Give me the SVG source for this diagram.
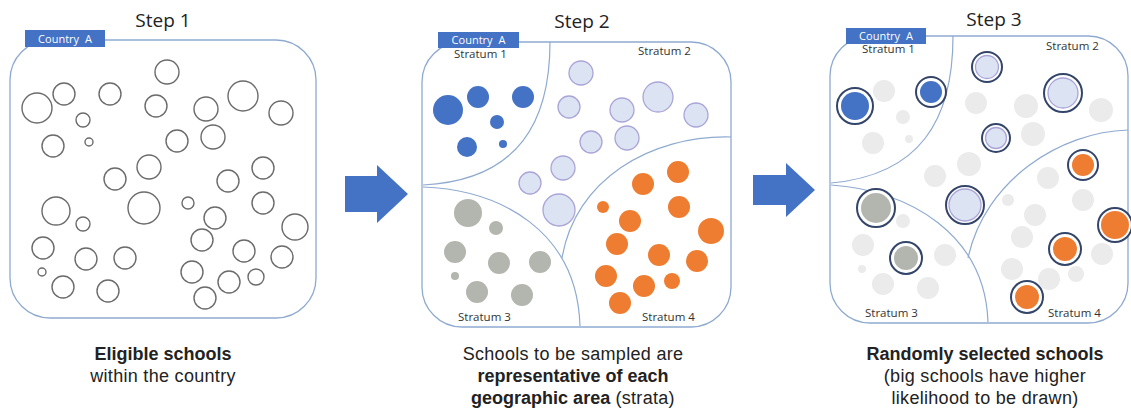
<svg xmlns="http://www.w3.org/2000/svg" width="1131" height="412" viewBox="0 0 1131 412">
  <style>
    text { font-family: "Open Sans", "Liberation Sans", sans-serif; }
    .panel { fill: #ffffff; stroke: #8faad0; stroke-width: 1.3; }
    .div { fill: none; stroke: #8faad0; stroke-width: 1.2; }
    .e { fill: none; stroke: #6b6b6b; stroke-width: 1.4; }
    .s1 { fill: #4472c4; }
    .s2 { fill: #dce4f4; stroke: #aaa5d8; stroke-width: 1.3; }
    .s3 { fill: #b3b6ae; }
    .s4 { fill: #ee7d32; }
    .u { fill: #ebebeb; }
    .ring { fill: #ffffff; stroke: #34456a; stroke-width: 2; }
    .tag { fill: #4472c4; }
    .tagtxt { fill: #ffffff; font-size: 11px; text-anchor: middle; word-spacing: 3px; }
    .title { font-size: 19px; fill: #222; text-anchor: middle; }
    .cap { font-family: "Liberation Sans", Arial, sans-serif; font-size: 18px; fill: #222; text-anchor: middle; letter-spacing: 0.3px; }
    .b { font-weight: bold; letter-spacing: 0; }
    .strat { font-size: 11.5px; fill: #333; }
    .arrow { fill: #4472c4; }
  </style>

  <!-- Step 1: all eligible schools -->
  <g id="step1">
    <text class="title" x="163" y="27">Step 1</text>
    <rect class="panel" x="10" y="40" width="306" height="278" rx="40" ry="40"/>
    <rect class="tag" x="25" y="30" width="80" height="17"/>
    <text class="tagtxt" x="65" y="42.5">Country A</text>
    <g>
      <circle class="e" cx="167" cy="72" r="12"/>
      <circle class="e" cx="37" cy="108" r="15"/>
      <circle class="e" cx="64" cy="94" r="11"/>
      <circle class="e" cx="110" cy="94" r="11"/>
      <circle class="e" cx="83" cy="120" r="7"/>
      <circle class="e" cx="156" cy="106" r="11"/>
      <circle class="e" cx="206" cy="109" r="12"/>
      <circle class="e" cx="243" cy="96" r="15"/>
      <circle class="e" cx="281" cy="113" r="12"/>
      <circle class="e" cx="53" cy="146" r="11"/>
      <circle class="e" cx="89" cy="142" r="4"/>
      <circle class="e" cx="177" cy="141" r="11"/>
      <circle class="e" cx="213" cy="137" r="12"/>
      <circle class="e" cx="149" cy="167" r="12"/>
      <circle class="e" cx="115" cy="179" r="11"/>
      <circle class="e" cx="228" cy="181" r="11"/>
      <circle class="e" cx="263" cy="168" r="11"/>
      <circle class="e" cx="56" cy="211" r="14"/>
      <circle class="e" cx="144" cy="208" r="16"/>
      <circle class="e" cx="188" cy="203" r="6"/>
      <circle class="e" cx="263" cy="203" r="11"/>
      <circle class="e" cx="83" cy="224" r="7"/>
      <circle class="e" cx="215" cy="218" r="11"/>
      <circle class="e" cx="295" cy="227" r="13"/>
      <circle class="e" cx="43" cy="248" r="11"/>
      <circle class="e" cx="86" cy="259" r="11"/>
      <circle class="e" cx="125" cy="258" r="11"/>
      <circle class="e" cx="202" cy="240" r="11"/>
      <circle class="e" cx="244" cy="251" r="11"/>
      <circle class="e" cx="282" cy="257" r="11"/>
      <circle class="e" cx="42" cy="272" r="4"/>
      <circle class="e" cx="63" cy="287" r="11"/>
      <circle class="e" cx="108" cy="291" r="11"/>
      <circle class="e" cx="192" cy="272" r="11"/>
      <circle class="e" cx="229" cy="282" r="11"/>
      <circle class="e" cx="256" cy="277" r="8"/>
      <circle class="e" cx="205" cy="298" r="11"/>
    </g>
    <text class="cap b" x="163" y="360">Eligible schools</text>
    <text class="cap" x="163" y="382">within the country</text>
  </g>

  <!-- Step 2: schools grouped into four strata -->
  <g id="step2">
    <text class="title" x="582" y="28">Step 2</text>
    <rect class="panel" x="422" y="42" width="309" height="285" rx="40" ry="40"/>
    <path class="div" d="M550,42 C550,120 520,180 423,185"/>
    <path class="div" d="M423,187 C500,190 577,230 580,326"/>
    <path class="div" d="M731,137 C650,135 575,180 562,258"/>
    <rect class="tag" x="438" y="32" width="81" height="16"/>
    <text class="tagtxt" x="478.5" y="44">Country A</text>
    <text class="strat" x="454" y="58">Stratum 1</text>
    <text class="strat" x="638" y="55">Stratum 2</text>
    <text class="strat" x="458" y="321">Stratum 3</text>
    <text class="strat" x="642" y="321">Stratum 4</text>
    <g>
      <circle class="s1" cx="448" cy="110" r="15"/>
      <circle class="s1" cx="478" cy="97" r="11"/>
      <circle class="s1" cx="523" cy="97" r="11"/>
      <circle class="s1" cx="497" cy="122" r="7"/>
      <circle class="s1" cx="467" cy="147" r="10"/>
      <circle class="s1" cx="503" cy="144" r="4"/>
    </g>
    <g>
      <circle class="s2" cx="581" cy="73" r="12"/>
      <circle class="s2" cx="569" cy="107" r="11"/>
      <circle class="s2" cx="622" cy="110" r="12"/>
      <circle class="s2" cx="658" cy="97" r="15"/>
      <circle class="s2" cx="696" cy="115" r="12"/>
      <circle class="s2" cx="591" cy="142" r="11"/>
      <circle class="s2" cx="627" cy="138" r="12"/>
      <circle class="s2" cx="563" cy="168" r="12"/>
      <circle class="s2" cx="530" cy="183" r="11"/>
      <circle class="s2" cx="559" cy="210" r="16"/>
    </g>
    <g>
      <circle class="s3" cx="468" cy="213" r="14"/>
      <circle class="s3" cx="496" cy="228" r="7"/>
      <circle class="s3" cx="455" cy="252" r="11"/>
      <circle class="s3" cx="499" cy="263" r="11"/>
      <circle class="s3" cx="540" cy="262" r="11"/>
      <circle class="s3" cx="455" cy="276" r="4"/>
      <circle class="s3" cx="477" cy="292" r="11"/>
      <circle class="s3" cx="522" cy="295" r="11"/>
    </g>
    <g>
      <circle class="s4" cx="643" cy="184" r="11"/>
      <circle class="s4" cx="678" cy="172" r="11"/>
      <circle class="s4" cx="603" cy="207" r="6"/>
      <circle class="s4" cx="679" cy="207" r="11"/>
      <circle class="s4" cx="630" cy="221" r="11"/>
      <circle class="s4" cx="711" cy="231" r="13"/>
      <circle class="s4" cx="617" cy="244" r="11"/>
      <circle class="s4" cx="659" cy="255" r="11"/>
      <circle class="s4" cx="697" cy="261" r="11"/>
      <circle class="s4" cx="606" cy="276" r="11"/>
      <circle class="s4" cx="644" cy="286" r="11"/>
      <circle class="s4" cx="672" cy="281" r="8"/>
      <circle class="s4" cx="620" cy="303" r="11"/>
    </g>
    <text class="cap" x="573" y="360">Schools to be sampled are</text>
    <text class="cap b" x="573" y="382">representative of each</text>
    <text class="cap" x="573" y="404"><tspan class="b">geographic area</tspan> (strata)</text>
  </g>

  <!-- Step 3: random selection within each stratum -->
  <g id="step3">
    <text class="title" x="994" y="26">Step 3</text>
    <rect class="panel" x="830" y="36" width="298" height="287" rx="40" ry="40"/>
    <path class="div" d="M953,36 C953,120 920,175 831,183"/>
    <path class="div" d="M831,185 C910,190 985,235 988,322"/>
    <path class="div" d="M1128,130 C1060,132 985,180 968,258"/>
    <rect class="tag" x="846" y="28" width="80" height="16"/>
    <text class="tagtxt" x="886" y="40">Country A</text>
    <text class="strat" x="862" y="53">Stratum 1</text>
    <text class="strat" x="1046" y="50">Stratum 2</text>
    <text class="strat" x="865" y="317">Stratum 3</text>
    <text class="strat" x="1048" y="317">Stratum 4</text>
    <g>
      <circle class="u" cx="884" cy="91" r="11"/>
      <circle class="u" cx="903" cy="117" r="7"/>
      <circle class="u" cx="976" cy="103" r="11"/>
      <circle class="u" cx="1026" cy="106" r="12"/>
      <circle class="u" cx="1101" cy="110" r="12"/>
      <circle class="u" cx="873" cy="143" r="11"/>
      <circle class="u" cx="909" cy="139" r="4"/>
      <circle class="u" cx="1033" cy="134" r="12"/>
      <circle class="u" cx="969" cy="164" r="12"/>
      <circle class="u" cx="935" cy="176" r="11"/>
      <circle class="u" cx="1048" cy="178" r="11"/>
      <circle class="u" cx="1008" cy="200" r="6"/>
      <circle class="u" cx="1083" cy="200" r="11"/>
      <circle class="u" cx="903" cy="221" r="7"/>
      <circle class="u" cx="1035" cy="215" r="11"/>
      <circle class="u" cx="863" cy="245" r="11"/>
      <circle class="u" cx="945" cy="255" r="11"/>
      <circle class="u" cx="1022" cy="237" r="11"/>
      <circle class="u" cx="1102" cy="254" r="11"/>
      <circle class="u" cx="862" cy="269" r="4"/>
      <circle class="u" cx="883" cy="284" r="11"/>
      <circle class="u" cx="928" cy="288" r="11"/>
      <circle class="u" cx="1012" cy="269" r="11"/>
      <circle class="u" cx="1049" cy="279" r="11"/>
      <circle class="u" cx="1076" cy="274" r="8"/>
    </g>
    <!-- selected schools: dark ring around the stratum colour -->
    <g>
      <circle class="ring" cx="855" cy="106" r="18"/><circle class="s1" cx="855" cy="106" r="14"/>
      <circle class="ring" cx="931" cy="92" r="15"/><circle class="s1" cx="931" cy="92" r="11"/>
      <circle class="ring" cx="987" cy="67" r="15"/><circle class="s2" cx="987" cy="67" r="11.5"/>
      <circle class="ring" cx="1063" cy="93" r="19"/><circle class="s2" cx="1063" cy="93" r="15"/>
      <circle class="ring" cx="996" cy="138" r="14"/><circle class="s2" cx="996" cy="138" r="10.5"/>
      <circle class="ring" cx="965" cy="205" r="19"/><circle class="s2" cx="965" cy="205" r="16"/>
      <circle class="ring" cx="876" cy="208" r="19"/><circle class="s3" cx="876" cy="208" r="15"/>
      <circle class="ring" cx="906" cy="258" r="16"/><circle class="s3" cx="906" cy="258" r="12"/>
      <circle class="ring" cx="1083" cy="165" r="15"/><circle class="s4" cx="1083" cy="165" r="11"/>
      <circle class="ring" cx="1115" cy="225" r="17"/><circle class="s4" cx="1115" cy="225" r="14"/>
      <circle class="ring" cx="1065" cy="249" r="16"/><circle class="s4" cx="1065" cy="249" r="12"/>
      <circle class="ring" cx="1027" cy="297" r="16"/><circle class="s4" cx="1027" cy="297" r="12"/>
    </g>
    <text class="cap b" x="985" y="360">Randomly selected schools</text>
    <text class="cap" x="985" y="382">(big schools have higher</text>
    <text class="cap" x="985" y="404">likelihood to be drawn)</text>
  </g>

  <!-- block arrows between the steps -->
  <g id="connectors">
    <polygon class="arrow" points="345,176 377,176 377,165 408,194 377,223 377,212 345,212"/>
    <polygon class="arrow" points="753,175 786,175 786,163 815,190 786,217 786,205 753,205"/>
  </g>
</svg>
